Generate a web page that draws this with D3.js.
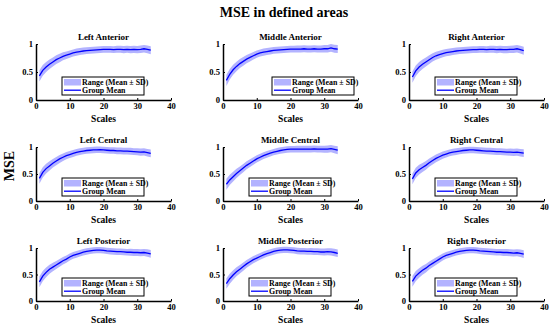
<!DOCTYPE html>
<html><head><meta charset="utf-8">
<script src="https://cdn.jsdelivr.net/npm/d3@7"></script>
<style>body{margin:0;background:#fff}svg{display:block}text{font-family:"Liberation Serif","Times New Roman",serif;font-weight:bold}</style>
</head><body><svg id="c" width="550" height="328"></svg>
<script>
const scales = d3.range(1, 35);
const panelTitles = ["Left Anterior","Middle Anterior","Right Anterior","Left Central","Middle Central","Right Central","Left Posterior","Middle Posterior","Right Posterior"];
const meanLA = [0.43,0.53,0.59,0.64,0.68,0.72,0.75,0.78,0.80,0.82,0.84,0.855,0.865,0.875,0.88,0.885,0.89,0.895,0.90,0.905,0.905,0.905,0.90,0.905,0.905,0.90,0.905,0.90,0.905,0.90,0.905,0.915,0.905,0.89];
const meanMA = [0.35,0.46,0.54,0.60,0.65,0.69,0.73,0.76,0.79,0.82,0.84,0.855,0.865,0.875,0.885,0.89,0.895,0.90,0.905,0.91,0.91,0.91,0.91,0.915,0.91,0.91,0.915,0.91,0.91,0.915,0.915,0.93,0.915,0.91];
const meanRA = [0.41,0.52,0.59,0.64,0.68,0.72,0.76,0.79,0.81,0.83,0.845,0.855,0.865,0.875,0.88,0.885,0.89,0.895,0.90,0.90,0.905,0.905,0.90,0.905,0.905,0.90,0.905,0.90,0.90,0.905,0.905,0.915,0.90,0.88];
const meanLC = [0.42,0.53,0.60,0.65,0.70,0.74,0.78,0.81,0.84,0.86,0.88,0.90,0.915,0.925,0.935,0.94,0.945,0.948,0.95,0.945,0.94,0.935,0.935,0.93,0.93,0.925,0.925,0.92,0.915,0.91,0.905,0.91,0.895,0.88];
const meanMC = [0.31,0.39,0.45,0.51,0.56,0.61,0.66,0.70,0.74,0.78,0.81,0.84,0.865,0.885,0.905,0.92,0.935,0.945,0.955,0.96,0.96,0.96,0.96,0.96,0.96,0.96,0.965,0.96,0.96,0.96,0.96,0.97,0.955,0.94];
const meanRC = [0.41,0.52,0.58,0.62,0.66,0.71,0.75,0.79,0.82,0.85,0.87,0.89,0.905,0.915,0.925,0.935,0.94,0.945,0.945,0.94,0.935,0.93,0.925,0.925,0.92,0.915,0.915,0.91,0.905,0.905,0.90,0.905,0.895,0.885];
const meanLP = [0.36,0.47,0.54,0.60,0.64,0.68,0.72,0.76,0.79,0.83,0.86,0.88,0.90,0.92,0.935,0.945,0.955,0.96,0.96,0.955,0.945,0.94,0.935,0.93,0.93,0.925,0.92,0.92,0.915,0.915,0.91,0.915,0.905,0.89];
const meanMP = [0.33,0.42,0.49,0.55,0.60,0.65,0.70,0.74,0.78,0.81,0.84,0.87,0.895,0.915,0.935,0.95,0.96,0.965,0.965,0.96,0.955,0.945,0.94,0.94,0.935,0.935,0.93,0.93,0.925,0.925,0.93,0.925,0.915,0.90];
const meanRP = [0.37,0.47,0.53,0.58,0.62,0.67,0.71,0.75,0.79,0.83,0.86,0.88,0.90,0.92,0.935,0.945,0.955,0.96,0.96,0.955,0.945,0.94,0.935,0.93,0.925,0.92,0.92,0.915,0.915,0.91,0.905,0.91,0.90,0.885];
const sdValues = [0.10,0.095,0.09,0.085,0.08,0.077,0.074,0.071,0.068,0.066,0.064,0.063,0.062,0.061,0.06,0.06,0.06,0.06,0.06,0.06,0.06,0.061,0.061,0.062,0.062,0.063,0.063,0.064,0.064,0.065,0.066,0.068,0.07,0.072];
const xTicks = [0,10,20,30,40];
const yTicks = [0,0.5,1];
const yTickLabels = ["0","0.5","1"];
const legendLabels = ["Range (Mean ± SD)","Group Mean"];

const means = [meanLA,meanMA,meanRA,meanLC,meanMC,meanRC,meanLP,meanMP,meanRP];

// layout
const colLeft = [36, 223, 409], plotW = 135;
const rowTop = [44, 147, 248], rowBottom = [100, 201, 301];
const legendShift = [26, 49, 26, 26, 26, 26, 26, 26, 26];
const bandColor = "rgb(179,179,255)", lineColor = "#0000ff";

const svg = d3.select("#c");
svg.append("text").attr("x", 284).attr("y", 17).attr("text-anchor","middle")
  .attr("font-size", 14).text("MSE in defined areas");
svg.append("text").attr("transform","translate(13.5,166) rotate(-90)").attr("text-anchor","middle")
  .attr("font-size", 14).text("MSE");

means.forEach((m, i) => {
  const r = Math.floor(i / 3), c = i % 3;
  const x0 = colLeft[c], y0 = rowTop[r], y1 = rowBottom[r];
  const x = d3.scaleLinear().domain([0, 40]).range([x0, x0 + plotW]);
  const y = d3.scaleLinear().domain([0, 1]).range([y1, y0]);
  const g = svg.append("g");
  const data = scales.map((s, k) => ({s, m: m[k], sd: sdValues[k]}));
  g.append("path").datum(data).attr("fill", bandColor)
    .attr("d", d3.area().x(d => x(d.s)).y0(d => y(d.m - d.sd)).y1(d => y(d.m + d.sd)));
  g.append("path").datum(data).attr("fill","none").attr("stroke", lineColor).attr("stroke-width", 1.3)
    .attr("d", d3.line().x(d => x(d.s)).y(d => y(d.m)));
  const xa = g.append("g").attr("transform", `translate(0,${y1})`)
    .call(d3.axisBottom(x).tickValues(xTicks).tickSizeInner(-2).tickSizeOuter(0).tickPadding(3));
  const ya = g.append("g").attr("transform", `translate(${x0},0)`)
    .call(d3.axisLeft(y).tickValues(yTicks).tickFormat((d, k) => yTickLabels[k]).tickSizeInner(-2).tickSizeOuter(0).tickPadding(3));
  [xa, ya].forEach(a => {
    a.select(".domain").attr("stroke","#000").attr("stroke-width",1.5);
    a.selectAll(".tick line").attr("stroke","#000").attr("stroke-width",1);
    a.selectAll("text").attr("font-size", 8.6).attr("font-family", '"Liberation Serif",serif').attr("font-weight","bold").attr("fill","#000");
  });
  g.append("text").attr("x", x0 + plotW / 2).attr("y", y0 - 4).attr("text-anchor","middle")
    .attr("font-size", 9).text(panelTitles[i]);
  g.append("text").attr("x", x0 + plotW / 2).attr("y", y1 + 21.5).attr("text-anchor","middle")
    .attr("font-size", 9.5).text("Scales");
  // legend
  const lx = x0 + legendShift[i], ly = y1 - 5 - 18;
  const lg = g.append("g").attr("transform", `translate(${lx},${ly})`);
  lg.append("rect").attr("width", 82).attr("height", 18).attr("fill","#fff").attr("stroke","#000").attr("stroke-width",1);
  lg.append("rect").attr("x", 2).attr("y", 2).attr("width", 17).attr("height", 6.5).attr("fill", bandColor);
  lg.append("line").attr("x1", 2).attr("x2", 19).attr("y1", 13.2).attr("y2", 13.2).attr("stroke", lineColor).attr("stroke-width", 1.3);
  lg.append("text").attr("x", 20).attr("y", 8).attr("font-size", 7.9).text(legendLabels[0]);
  lg.append("text").attr("x", 20).attr("y", 16.3).attr("font-size", 7.9).text(legendLabels[1]);
});
</script></body></html>
